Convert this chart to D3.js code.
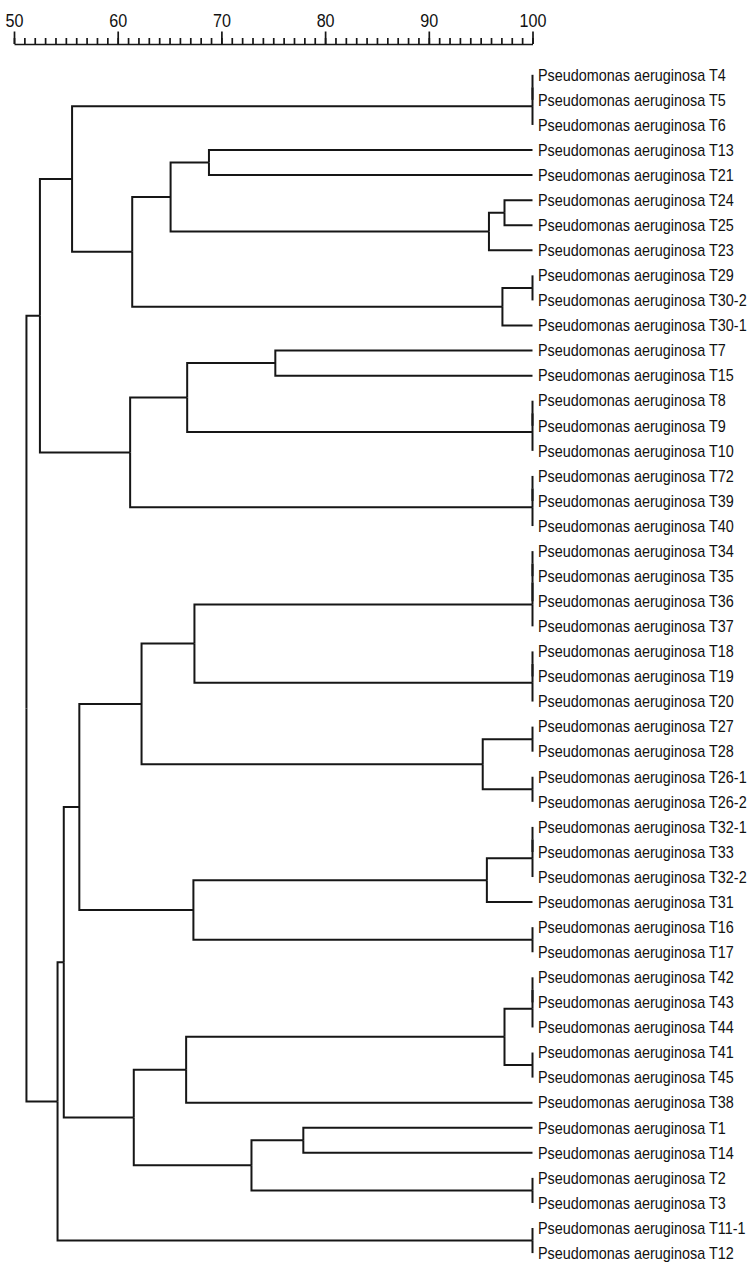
<!DOCTYPE html>
<html>
<head>
<meta charset="utf-8">
<script src="https://cdn.jsdelivr.net/npm/d3@7"></script>
<style>
  body { margin: 0; background: #fff; }
  svg { display: block; }
  .branch { fill: none; stroke: #161616; stroke-width: 2; }
  .leaf-label { font-family: 'Liberation Sans', Arial, sans-serif; font-size: 16px; fill: #111; }
  .axis text { font-family: 'Liberation Sans', Arial, sans-serif; font-size: 19px; fill: #111; }
  .axis path, .axis line { stroke: #161616; stroke-width: 1.7; }
</style>
</head>
<body>
<div id="tree"></div>
<script>
const width = 756
const height = 1268

const species = 'Pseudomonas aeruginosa'

// strains, top to bottom
const strains = [
  'T4', 'T5', 'T6', 'T13', 'T21', 'T24', 'T25', 'T23', 'T29', 'T30-2', 'T30-1',
  'T7', 'T15', 'T8', 'T9', 'T10', 'T72', 'T39', 'T40',
  'T34', 'T35', 'T36', 'T37', 'T18', 'T19', 'T20', 'T27', 'T28', 'T26-1', 'T26-2',
  'T32-1', 'T33', 'T32-2', 'T31', 'T16', 'T17',
  'T42', 'T43', 'T44', 'T41', 'T45', 'T38', 'T1', 'T14', 'T2', 'T3', 'T11-1', 'T12'
]

// linkage: new cluster id, joined clusters, similarity (%)
const clusterIds = [
  'n1', 'n2', 'n3', 'n4', 'n5', 'n6', 'n7', 'n8', 'n9', 'n10',
  'n11', 'n12', 'n13', 'n14', 'n15', 'n16', 'n17', 'n18',
  'n19', 'n20', 'n21', 'n22', 'n23', 'n24', 'n25', 'n26', 'n27', 'n28',
  'n29', 'n30', 'n31', 'n32', 'n33', 'n34',
  'n35', 'n36', 'n37', 'n38', 'n39', 'n40', 'n41', 'n42', 'n43', 'n44', 'n45', 'n46', 'n47'
]
const joinLeft = [
  'T4', 'n1', 'T13', 'T24', 'n4', 'n3', 'T29', 'n7', 'n6', 'n2',
  'T7', 'T8', 'n12', 'n11', 'T72', 'n15', 'n14', 'n10',
  'T34', 'n19', 'n20', 'T18', 'n22', 'n21', 'T27', 'T26-1', 'n25', 'n24',
  'T32-1', 'n29', 'n30', 'T16', 'n31', 'n28',
  'T42', 'n35', 'T41', 'n36', 'n38', 'T1', 'T2', 'n40', 'n39', 'n34', 'T11-1', 'n44', 'n18'
]
const joinRight = [
  'T5', 'T6', 'T21', 'T25', 'T23', 'n5', 'T30-2', 'T30-1', 'n8', 'n9',
  'T15', 'T9', 'T10', 'n13', 'T39', 'T40', 'n16', 'n17',
  'T35', 'T36', 'T37', 'T19', 'T20', 'n23', 'T28', 'T26-2', 'n26', 'n27',
  'T33', 'T32-2', 'T31', 'T17', 'n32', 'n33',
  'T43', 'T44', 'T45', 'n37', 'T38', 'T14', 'T3', 'n41', 'n42', 'n43', 'T12', 'n45', 'n46'
]
const similarity = [
  100, 100, 68.8, 97.3, 95.8, 65.1, 100, 97.1, 61.4, 55.6,
  75.2, 100, 100, 66.7, 100, 100, 61.2, 52.5,
  100, 100, 100, 100, 100, 67.4, 100, 100, 95.2, 62.3,
  100, 100, 95.6, 100, 67.3, 56.3,
  100, 100, 100, 97.3, 66.6, 77.9, 100, 72.9, 61.55, 54.8, 100, 54.2, 51.2
]

const axisTicks = [50, 60, 70, 80, 90, 100]
const minorTicks = d3.range(50, 101, 1)

const svg = d3
  .select('#tree')
  .append('svg')
  .attr('width', width)
  .attr('height', height)

const xPositionScale = d3.scaleLinear().domain([50, 100]).range([14, 532.5])
const yPositionScale = d3
  .scaleLinear()
  .domain([0, strains.length - 1])
  .range([74.8, 74.8 + 25.07 * (strains.length - 1)])

// node positions: leaves at 100, clusters at their similarity and mid height of children
const nodes = {}
strains.forEach((s, i) => {
  nodes[s] = { x: xPositionScale(100), y: yPositionScale(i) }
})
clusterIds.forEach((id, i) => {
  const a = nodes[joinLeft[i]]
  const b = nodes[joinRight[i]]
  nodes[id] = { x: xPositionScale(similarity[i]), y: (a.y + b.y) / 2, kids: [a, b] }
})

const links = []
clusterIds.forEach(id => {
  nodes[id].kids.forEach(k => links.push({ parent: nodes[id], child: k }))
})

svg
  .selectAll('.branch')
  .data(links)
  .enter()
  .append('path')
  .attr('class', 'branch')
  .attr('d', d => `M${d.child.x},${d.child.y}H${d.parent.x}V${d.parent.y}`)

// scale bar
const minorAxis = d3
  .axisTop(xPositionScale)
  .tickValues(minorTicks)
  .tickSize(6)
  .tickSizeOuter(0)
  .tickFormat('')

svg
  .append('g')
  .attr('class', 'axis')
  .attr('transform', 'translate(0,44)')
  .call(minorAxis)

const majorAxis = d3
  .axisTop(xPositionScale)
  .tickValues(axisTicks)
  .tickSize(12.5)
  .tickSizeOuter(0)
  .tickPadding(4.5)
  .tickFormat(d3.format('d'))

svg
  .append('g')
  .attr('class', 'axis')
  .attr('transform', 'translate(0,44)')
  .call(majorAxis)
  .call(g => g.select('.domain').remove())
  .selectAll('text')
  .attr('transform', 'scale(0.85,1)')

svg
  .selectAll('.leaf-label')
  .data(strains)
  .enter()
  .append('text')
  .attr('class', 'leaf-label')
  .attr('transform', (d, i) => `translate(${xPositionScale(100) + 5.5},${yPositionScale(i)}) scale(0.9,1)`)
  .attr('dy', '0.36em')
  .text(d => species + ' ' + d)
</script>
</body>
</html>
